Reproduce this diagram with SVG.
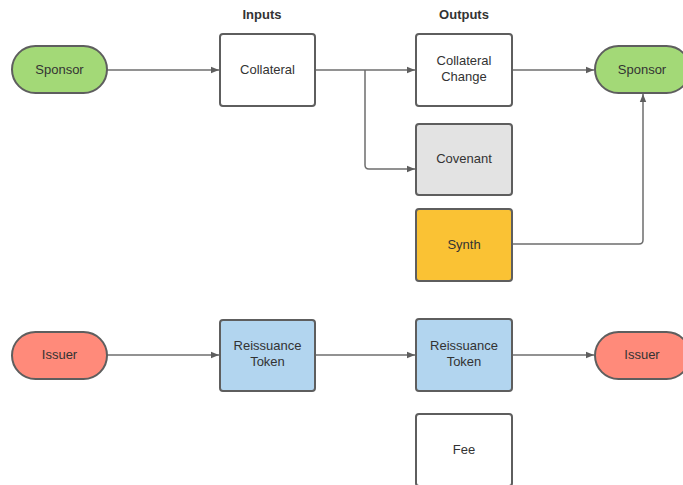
<svg xmlns="http://www.w3.org/2000/svg" width="683" height="485" viewBox="0 0 683 485">
<style>
.n{stroke:#5e5e5e;stroke-width:2}
.t{font-family:"Liberation Sans",Arial,sans-serif;font-size:13px;fill:#333;text-anchor:middle}
.h{font-family:"Liberation Sans",Arial,sans-serif;font-size:13px;font-weight:bold;fill:#333;text-anchor:middle}
.c{fill:none;stroke:#6e6e6e;stroke-width:1.5}
</style>
<defs>
<marker id="a" viewBox="0 0 10 10" refX="10" refY="5" markerWidth="8" markerHeight="8" markerUnits="userSpaceOnUse" orient="auto">
<path d="M0,1 L10,5 L0,9 Z" fill="#5e5e5e"/>
</marker>
</defs>
<rect width="683" height="485" fill="#fff"/>
<text class="h" x="262" y="19">Inputs</text>
<text class="h" x="464" y="19">Outputs</text>
<g id="connectors">
<path class="c" d="M107,70 H219" marker-end="url(#a)"/>
<path class="c" d="M315,70 H415" marker-end="url(#a)"/>
<path class="c" d="M365,70 V165 Q365,169 369,169 H415" marker-end="url(#a)"/>
<path class="c" d="M512,70 H594" marker-end="url(#a)"/>
<path class="c" d="M512,244 H639 Q643,244 643,240 V94" marker-end="url(#a)"/>
<path class="c" d="M107,355 H219" marker-end="url(#a)"/>
<path class="c" d="M315,355 H415" marker-end="url(#a)"/>
<path class="c" d="M512,355 H594" marker-end="url(#a)"/>
</g>
<g id="sponsor-in"><rect class="n" x="12" y="46" width="95" height="47" rx="23.5" fill="#a3d977"/><text class="t" x="59.5" y="74">Sponsor</text></g>
<g id="collateral"><rect class="n" x="220" y="34" width="95" height="72" rx="3" fill="#fff"/><text class="t" x="267.5" y="74">Collateral</text></g>
<g id="collateral-change"><rect class="n" x="416" y="34" width="96" height="72" rx="3" fill="#fff"/><text class="t" x="464" y="65">Collateral</text><text class="t" x="464" y="81">Change</text></g>
<g id="sponsor-out"><rect class="n" x="595" y="46" width="95" height="47" rx="23.5" fill="#a3d977"/><text class="t" x="642" y="74">Sponsor</text></g>
<g id="covenant"><rect class="n" x="416" y="124" width="96" height="71" rx="3" fill="#e3e3e3"/><text class="t" x="464" y="163">Covenant</text></g>
<g id="synth"><rect class="n" x="416" y="209" width="96" height="72" rx="3" fill="#fac234"/><text class="t" x="464" y="249">Synth</text></g>
<g id="issuer-in"><rect class="n" x="12" y="332" width="95" height="47" rx="23.5" fill="#ff8a7a"/><text class="t" x="59.5" y="359">Issuer</text></g>
<g id="reissuance-in"><rect class="n" x="220" y="320" width="95" height="71" rx="3" fill="#b2d5ef"/><text class="t" x="267.5" y="350">Reissuance</text><text class="t" x="267.5" y="366">Token</text></g>
<g id="reissuance-out"><rect class="n" x="416" y="319" width="96" height="72" rx="3" fill="#b2d5ef"/><text class="t" x="464" y="350">Reissuance</text><text class="t" x="464" y="366">Token</text></g>
<g id="issuer-out"><rect class="n" x="595" y="332" width="95" height="47" rx="23.5" fill="#ff8a7a"/><text class="t" x="642" y="359">Issuer</text></g>
<g id="fee"><rect class="n" x="416" y="414" width="96" height="72" rx="3" fill="#fff"/><text class="t" x="464" y="454">Fee</text></g>
</svg>
